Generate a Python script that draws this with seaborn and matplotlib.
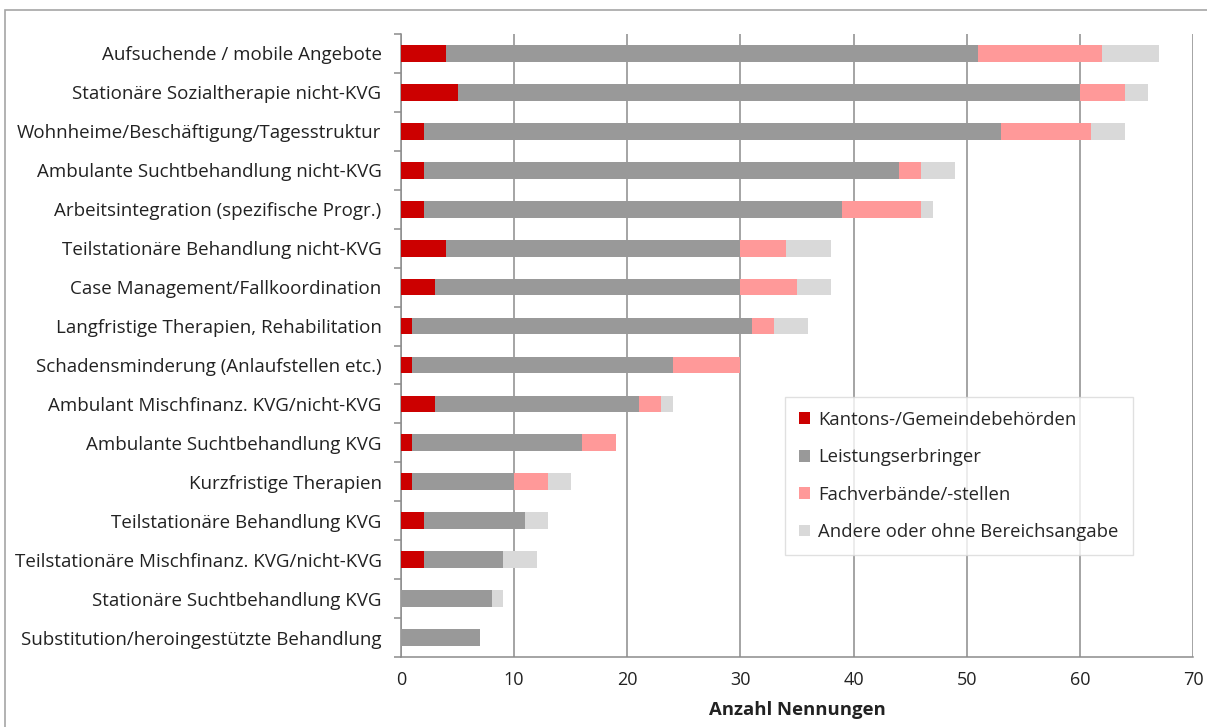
import matplotlib
matplotlib.use("Agg")
import matplotlib.pyplot as plt
import seaborn as sns
import pandas as pd
import numpy as np
from matplotlib.patches import Rectangle

categories = [
    "Aufsuchende / mobile Angebote",
    "Stationäre Sozialtherapie nicht-KVG",
    "Wohnheime/Beschäftigung/Tagesstruktur",
    "Ambulante Suchtbehandlung nicht-KVG",
    "Arbeitsintegration (spezifische Progr.)",
    "Teilstationäre Behandlung nicht-KVG",
    "Case Management/Fallkoordination",
    "Langfristige Therapien, Rehabilitation",
    "Schadensminderung (Anlaufstellen etc.)",
    "Ambulant Mischfinanz. KVG/nicht-KVG",
    "Ambulante Suchtbehandlung KVG",
    "Kurzfristige Therapien",
    "Teilstationäre Behandlung KVG",
    "Teilstationäre Mischfinanz. KVG/nicht-KVG",
    "Stationäre Suchtbehandlung KVG",
    "Substitution/heroingestützte Behandlung",
]
kantons = [4, 5, 2, 2, 2, 4, 3, 1, 1, 3, 1, 1, 2, 2, 0, 0]
leistung = [47, 55, 51, 42, 37, 26, 27, 30, 23, 18, 15, 9, 9, 7, 8, 7]
fach = [11, 4, 8, 2, 7, 4, 5, 2, 6, 2, 3, 3, 0, 0, 0, 0]
andere = [5, 2, 3, 3, 1, 4, 3, 3, 0, 1, 0, 2, 2, 3, 1, 0]

series_names = ["Kantons-/Gemeindebehörden", "Leistungserbringer",
                "Fachverbände/-stellen", "Andere oder ohne Bereichsangabe"]
colors = ["#CC0000", "#999999", "#FF9999", "#D9D9D9"]

sns.set_theme(style="white")
plt.rcParams["font.family"] = ["Open Sans", "DejaVu Sans"]

df = pd.DataFrame({"cat": categories, "s0": kantons, "s1": leistung,
                   "s2": fach, "s3": andere})
cum = np.cumsum(df[["s0", "s1", "s2", "s3"]].values, axis=1)
for i in range(4):
    df[f"c{i}"] = cum[:, i]

fig = plt.figure(figsize=(12.07, 7.27), dpi=100)
ax = fig.add_axes([401 / 1207, 1 - 657 / 727, (1193 - 401) / 1207, (657 - 34) / 727])

for i in [3, 2, 1, 0]:
    sns.barplot(data=df, y="cat", x=f"c{i}", orient="h", color=colors[i],
                width=0.43, ax=ax, saturation=1, label=series_names[i],
                edgecolor="none", linewidth=0, zorder=3)

ax.set_xlim(0, 70)
ax.set_ylim(len(categories) - 0.5, -0.5)
ax.set_xticks(range(0, 71, 10))
ax.xaxis.grid(True, color="#8C8C8C", linewidth=1.1, zorder=0)
ax.set_axisbelow(True)
for s in ["top", "right"]:
    ax.spines[s].set_visible(False)
for s in ["left", "bottom"]:
    ax.spines[s].set_color("#8C8C8C")
    ax.spines[s].set_linewidth(1.1)

ax.set_ylabel("")
ax.set_xlabel("Anzahl Nennungen", fontsize=13.3, fontweight="bold", color="#222222", labelpad=9)
ax.tick_params(axis="y", length=0, pad=14, labelsize=13.5, labelcolor="#222222")
ax.tick_params(axis="x", length=0, pad=10, labelsize=13, labelcolor="#222222")
ax.set_yticks(np.arange(-0.5, len(categories), 1.0), minor=True)
ax.tick_params(axis="y", which="minor", length=5, width=1.1, color="#8C8C8C", left=True)

handles, labels = ax.get_legend_handles_labels()
order = [labels.index(n) for n in series_names]
leg = ax.legend([handles[k] for k in order], [labels[k] for k in order],
                loc="lower left", bbox_to_anchor=(0.485, 0.164),
                frameon=True, fancybox=False, fontsize=13.3,
                handlelength=0.6, handleheight=0.6, handletextpad=0.45,
                labelspacing=1.05, borderpad=0.75, borderaxespad=0)
leg.get_frame().set_edgecolor("#D9D9D9")
leg.get_frame().set_linewidth(1.0)

fig.patches.append(Rectangle((5 / 1207, -0.05), 1.1, 1 - 10 / 727 + 0.05,
                             transform=fig.transFigure, fill=False,
                             edgecolor="#A6A6A6", linewidth=1.2))

fig.savefig("out.png", dpi=100)
